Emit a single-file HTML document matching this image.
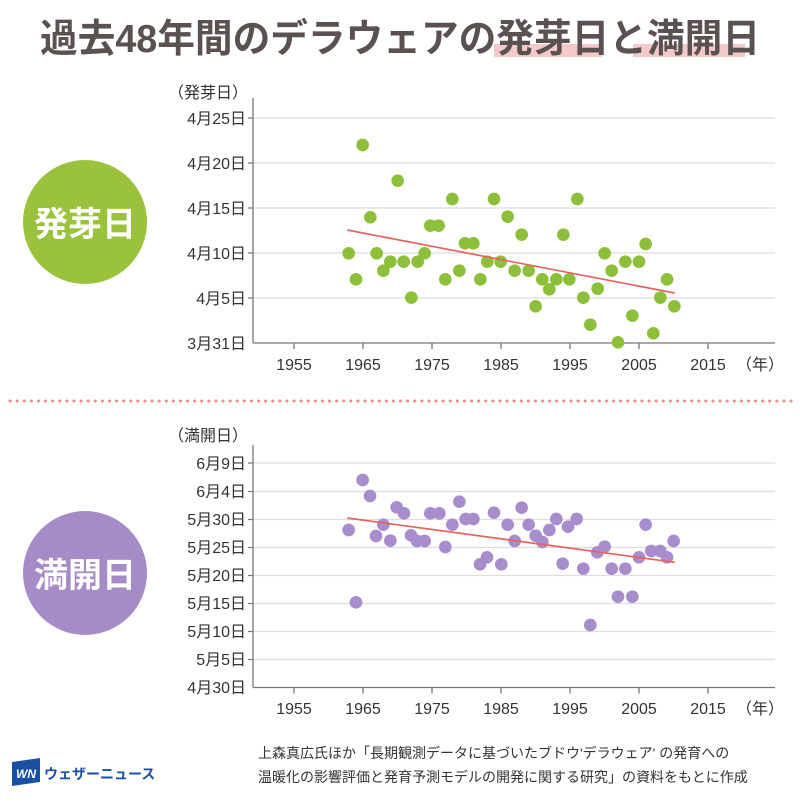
<!DOCTYPE html>
<html><head><meta charset="utf-8"><style>
body{margin:0;background:#fff;}
svg text{font-family:"Liberation Sans","Noto Sans CJK JP",sans-serif;}
</style></head><body>
<svg width="800" height="800" viewBox="0 0 800 800" xmlns="http://www.w3.org/2000/svg">
<rect width="800" height="800" fill="#fff"/>
<rect x="494" y="44" width="108" height="13" fill="#f4c9c9"/>
<rect x="633" y="44" width="112" height="13" fill="#f4c9c9"/>
<text x="400" y="52" text-anchor="middle" font-size="39" font-weight="bold" fill="#5a5250" textLength="720" lengthAdjust="spacingAndGlyphs">過去48年間のデラウェアの発芽日と満開日</text>

<circle cx="85" cy="222" r="62" fill="#9bc23c"/>
<text x="85" y="236" text-anchor="middle" font-size="34" font-weight="bold" fill="#fff">発芽日</text>
<circle cx="85" cy="573" r="62" fill="#a58bc7"/>
<text x="85" y="587" text-anchor="middle" font-size="34" font-weight="bold" fill="#fff">満開日</text>

<line x1="10" y1="401" x2="792" y2="401" stroke="#e88a8a" stroke-width="3" stroke-dasharray="0.1 7" stroke-linecap="round"/>

<!-- top chart -->
<g stroke="#ddd" stroke-width="1.2">
<line x1="253" y1="118" x2="775" y2="118"/><line x1="253" y1="163" x2="775" y2="163"/><line x1="253" y1="208" x2="775" y2="208"/><line x1="253" y1="253" x2="775" y2="253"/><line x1="253" y1="298" x2="775" y2="298"/>
</g>
<g stroke="#777" stroke-width="1.3" fill="none">
<line x1="253" y1="98" x2="253" y2="343"/><line x1="253" y1="343" x2="775" y2="343"/>
<path d="M248 118h5M248 163h5M248 208h5M248 253h5M248 298h5M294 343v6M363 343v6M432 343v6M501 343v6M570 343v6M639 343v6M708 343v6"/>
</g>
<g font-size="16" fill="#333" text-anchor="end">
<text x="246" y="124">4月25日</text><text x="246" y="169">4月20日</text><text x="246" y="214">4月15日</text><text x="246" y="259">4月10日</text><text x="246" y="304">4月5日</text><text x="246" y="349">3月31日</text>
<text x="248" y="98">（発芽日）</text>
</g>
<g font-size="16" fill="#333" text-anchor="middle">
<text x="294" y="370">1955</text><text x="363" y="370">1965</text><text x="432" y="370">1975</text><text x="501" y="370">1985</text><text x="570" y="370">1995</text><text x="639" y="370">2005</text><text x="708" y="370">2015</text><text x="760" y="370">（年）</text>
</g>
<g transform="translate(250,100) scale(0.33333)" fill="#8dc03a">
<circle cx="296" cy="460" r="19"/><circle cx="318" cy="538" r="19"/><circle cx="338" cy="135" r="19"/><circle cx="361" cy="352" r="19"/><circle cx="380" cy="460" r="19"/><circle cx="400" cy="512" r="19"/><circle cx="421" cy="485" r="19"/><circle cx="443" cy="242" r="19"/><circle cx="461" cy="485" r="19"/><circle cx="484" cy="593" r="19"/><circle cx="503" cy="485" r="19"/><circle cx="524" cy="460" r="19"/><circle cx="541" cy="377" r="19"/><circle cx="566" cy="377" r="19"/><circle cx="586" cy="538" r="19"/><circle cx="607" cy="297" r="19"/><circle cx="628" cy="512" r="19"/><circle cx="645" cy="430" r="19"/><circle cx="670" cy="430" r="19"/><circle cx="691" cy="538" r="19"/><circle cx="712" cy="485" r="19"/><circle cx="732" cy="297" r="19"/><circle cx="752" cy="485" r="19"/><circle cx="773" cy="350" r="19"/><circle cx="794" cy="512" r="19"/><circle cx="815" cy="404" r="19"/><circle cx="836" cy="512" r="19"/><circle cx="857" cy="619" r="19"/><circle cx="877" cy="538" r="19"/><circle cx="898" cy="568" r="19"/><circle cx="919" cy="538" r="19"/><circle cx="940" cy="404" r="19"/><circle cx="958" cy="538" r="19"/><circle cx="982" cy="297" r="19"/><circle cx="1000" cy="593" r="19"/><circle cx="1021" cy="674" r="19"/><circle cx="1043" cy="566" r="19"/><circle cx="1064" cy="460" r="19"/><circle cx="1085" cy="512" r="19"/><circle cx="1104" cy="727" r="19"/><circle cx="1126" cy="485" r="19"/><circle cx="1147" cy="647" r="19"/><circle cx="1167" cy="485" r="19"/><circle cx="1187" cy="432" r="19"/><circle cx="1210" cy="700" r="19"/><circle cx="1231" cy="593" r="19"/><circle cx="1251" cy="538" r="19"/><circle cx="1273" cy="619" r="19"/>
<line x1="292" y1="390" x2="1274" y2="579" stroke="#e8625c" stroke-width="5"/>
</g>

<!-- bottom chart -->
<g stroke="#ddd" stroke-width="1.2">
<line x1="253" y1="463" x2="775" y2="463"/><line x1="253" y1="491.5" x2="775" y2="491.5"/><line x1="253" y1="519.5" x2="775" y2="519.5"/><line x1="253" y1="547.5" x2="775" y2="547.5"/><line x1="253" y1="575.5" x2="775" y2="575.5"/><line x1="253" y1="603.5" x2="775" y2="603.5"/><line x1="253" y1="631.5" x2="775" y2="631.5"/><line x1="253" y1="659.5" x2="775" y2="659.5"/>
</g>
<g stroke="#777" stroke-width="1.3" fill="none">
<line x1="253" y1="445" x2="253" y2="687.5"/><line x1="253" y1="687.5" x2="775" y2="687.5"/>
<path d="M248 463h5M248 491.5h5M248 519.5h5M248 547.5h5M248 575.5h5M248 603.5h5M248 631.5h5M248 659.5h5M294 687.5v6M363 687.5v6M432 687.5v6M501 687.5v6M570 687.5v6M639 687.5v6M708 687.5v6"/>
</g>
<g font-size="16" fill="#333" text-anchor="end">
<text x="246" y="469">6月9日</text><text x="246" y="497">6月4日</text><text x="246" y="525">5月30日</text><text x="246" y="553">5月25日</text><text x="246" y="581">5月20日</text><text x="246" y="609">5月15日</text><text x="246" y="637">5月10日</text><text x="246" y="665">5月5日</text><text x="246" y="693">4月30日</text>
<text x="248" y="441">（満開日）</text>
</g>
<g font-size="16" fill="#333" text-anchor="middle">
<text x="294" y="714">1955</text><text x="363" y="714">1965</text><text x="432" y="714">1975</text><text x="501" y="714">1985</text><text x="570" y="714">1995</text><text x="639" y="714">2005</text><text x="708" y="714">2015</text><text x="760" y="714">（年）</text>
</g>
<g transform="translate(250,440) scale(0.33333)" fill="#a88dcc">
<circle cx="296" cy="270" r="19"/><circle cx="318" cy="487" r="19"/><circle cx="338" cy="120" r="19"/><circle cx="360" cy="168" r="19"/><circle cx="378" cy="288" r="19"/><circle cx="400" cy="254" r="19"/><circle cx="421" cy="302" r="19"/><circle cx="440" cy="202" r="19"/><circle cx="462" cy="220" r="19"/><circle cx="483" cy="286" r="19"/><circle cx="501" cy="303" r="19"/><circle cx="524" cy="303" r="19"/><circle cx="541" cy="220" r="19"/><circle cx="568" cy="220" r="19"/><circle cx="586" cy="321" r="19"/><circle cx="607" cy="254" r="19"/><circle cx="628" cy="185" r="19"/><circle cx="647" cy="237" r="19"/><circle cx="670" cy="237" r="19"/><circle cx="690" cy="373" r="19"/><circle cx="711" cy="352" r="19"/><circle cx="732" cy="218" r="19"/><circle cx="754" cy="373" r="19"/><circle cx="773" cy="254" r="19"/><circle cx="794" cy="303" r="19"/><circle cx="815" cy="203" r="19"/><circle cx="836" cy="254" r="19"/><circle cx="857" cy="287" r="19"/><circle cx="877" cy="306" r="19"/><circle cx="898" cy="270" r="19"/><circle cx="919" cy="237" r="19"/><circle cx="938" cy="371" r="19"/><circle cx="954" cy="260" r="19"/><circle cx="980" cy="237" r="19"/><circle cx="1000" cy="386" r="19"/><circle cx="1021" cy="555" r="19"/><circle cx="1042" cy="337" r="19"/><circle cx="1064" cy="320" r="19"/><circle cx="1085" cy="386" r="19"/><circle cx="1104" cy="470" r="19"/><circle cx="1126" cy="386" r="19"/><circle cx="1147" cy="470" r="19"/><circle cx="1167" cy="352" r="19"/><circle cx="1187" cy="254" r="19"/><circle cx="1204" cy="333" r="19"/><circle cx="1231" cy="333" r="19"/><circle cx="1251" cy="352" r="19"/><circle cx="1271" cy="303" r="19"/>
<line x1="292" y1="234" x2="1274" y2="367" stroke="#e8625c" stroke-width="5"/>
</g>

<!-- footer -->
<path d="M12 762 L40 758 L40 782 L12 786 Z" fill="#1a4fa3"/>
<text x="26" y="778" text-anchor="middle" font-size="12" font-weight="bold" font-style="italic" fill="#fff">WN</text>
<text x="44" y="779" font-size="14" font-weight="bold" fill="#1a4fa3">ウェザーニュース</text>
<g font-size="14" fill="#333">
<text x="258" y="758">上森真広氏ほか「長期観測データに基づいたブドウ'デラウェア' の発育への</text>
<text x="258" y="782">温暖化の影響評価と発育予測モデルの開発に関する研究」の資料をもとに作成</text>
</g>
</svg>
</body></html>
